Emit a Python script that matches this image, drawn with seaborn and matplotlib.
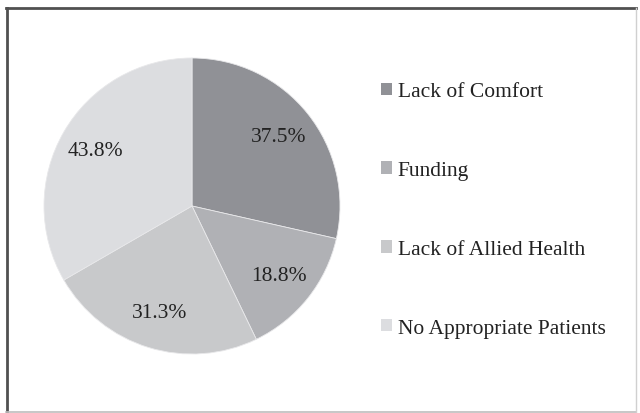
import matplotlib
matplotlib.use("Agg")
import matplotlib.pyplot as plt
from matplotlib import font_manager as fm
from matplotlib.patches import Patch
from matplotlib.lines import Line2D
import seaborn as sns

# Barriers reported (percent of respondents; multiple answers allowed)
categories = ["Lack of Comfort", "Funding", "Lack of Allied Health", "No Appropriate Patients"]
percentages = [37.5, 18.8, 31.3, 43.8]
colors = ["#909196", "#b0b1b5", "#c8c9cb", "#dcdde0"]

palette = sns.color_palette(colors)


def serif_file():
    # regular upright Liberation Serif face from the installed font list
    for f in fm.fontManager.ttflist:
        if f.name == "Liberation Serif" and f.style == "normal" and f.weight in (400, "normal", "regular"):
            return f.fname
    for f in fm.fontManager.ttflist:
        if "LiberationSerif-Regular" in f.fname:
            return f.fname
    return fm.findfont(fm.FontProperties(family="serif"))


label_font = fm.FontProperties(fname=serif_file(), size=15.5)

fig = plt.figure(figsize=(6.4, 4.14), dpi=100)
ax = fig.add_axes([44 / 640, 59 / 414, 296 / 640, 296 / 414])

total = sum(percentages)
wedges, texts, autotexts = ax.pie(
    percentages,
    colors=palette,
    startangle=90,
    counterclock=False,
    autopct=lambda p: f"{p * total / 100:.1f}%",
    pctdistance=0.75,
    wedgeprops=dict(edgecolor="#e8e8ea", linewidth=0.6),
    textprops=dict(color="#222222"),
)
for t in autotexts:
    t.set_fontproperties(label_font)
ax.set_xlim(-1, 1)
ax.set_ylim(-1, 1)
ax.set_aspect("equal")
ax.axis("off")

handles = [Patch(facecolor=c, edgecolor="none") for c in palette]
leg = fig.legend(
    handles,
    categories,
    loc="upper left",
    bbox_to_anchor=(362 / 640, 1 - 64 / 414),
    frameon=False,
    prop=label_font,
    handlelength=0.5,
    handleheight=0.5,
    handletextpad=0.25,
    labelspacing=2.78,
    labelcolor="#222222",
)
for t in leg.get_texts():
    t.set_fontproperties(label_font)

# outer frame
fig.add_artist(Line2D([6 / 640, 636 / 640], [1 - 9 / 414, 1 - 9 / 414], color="#505050", lw=2))
fig.add_artist(Line2D([6.5 / 640, 6.5 / 640], [1 - 9 / 414, 1 - 413 / 414], color="#505050", lw=2))
fig.add_artist(Line2D([6 / 640, 636 / 640], [1 - 413 / 414, 1 - 413 / 414], color="#bdbdbd", lw=1.2))
fig.add_artist(Line2D([635.5 / 640, 635.5 / 640], [1 - 9 / 414, 1 - 413 / 414], color="#d0d0d0", lw=1))

fig.savefig("out.png", dpi=100, facecolor="white")
